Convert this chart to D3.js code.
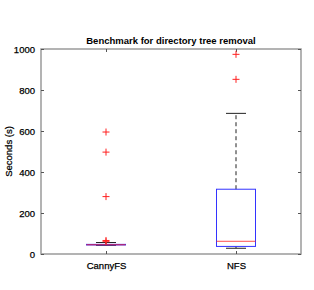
<!DOCTYPE html>
<html><head><meta charset="utf-8">
<script src="https://cdn.jsdelivr.net/npm/d3@7"></script>
<style>body{margin:0;background:#fff}svg{display:block}text{font-family:"Liberation Sans",Arial,sans-serif}</style>
</head><body>
<script>
const categories = ["CannyFS", "NFS"];
const q1 = [44, 37];
const medians = [45, 62];
const q3 = [47, 316];
const whiskerLow = [42, 28];
const whiskerHigh = [56, 686];
const outliers = [[595, 497, 280, 66, 60], [974, 852]];
const yTicks = [0, 200, 400, 600, 800, 1000];

const W = 314, H = 290;
const m = {left: 41, right: 13, top: 49, bottom: 36};
const svg = d3.select("body").append("svg").attr("width", W).attr("height", H);
const x = d3.scalePoint().domain(categories).range([m.left, W - m.right]).padding(0.5);
const y = d3.scaleLinear().domain([0, 1000]).range([H - m.bottom, m.top]);
const x0 = m.left, x1 = W - m.right, y0 = H - m.bottom, y1 = m.top;
const axisCol = "#9a9a9a", tickCol = "#555";

// frame
svg.append("rect").attr("x", x0).attr("y", y1).attr("width", x1 - x0).attr("height", y0 - y1)
  .attr("fill", "none").attr("stroke", axisCol).attr("stroke-width", 1.5);

function styleText(sel) {
  sel.attr("font-size", 9.5).attr("fill", "#000").attr("stroke", "#000").attr("stroke-width", 0.25);
}

// y axis ticks (left + mirrored right)
const gy = svg.append("g").attr("transform", `translate(${x0},0)`)
  .call(d3.axisLeft(y).tickValues(yTicks).tickFormat(d3.format("d")).tickSize(-3).tickPadding(6));
gy.select(".domain").remove();
gy.selectAll(".tick line").attr("stroke", tickCol);
styleText(gy.selectAll(".tick text"));
const gyr = svg.append("g").attr("transform", `translate(${x1},0)`)
  .call(d3.axisRight(y).tickValues(yTicks).tickSize(-3).tickFormat(""));
gyr.select(".domain").remove();
gyr.selectAll(".tick line").attr("stroke", tickCol);

// x axis
const gx = svg.append("g").attr("transform", `translate(0,${y0})`)
  .call(d3.axisBottom(x).tickSize(-3).tickPadding(8));
gx.select(".domain").remove();
gx.selectAll(".tick line").attr("stroke", tickCol);
styleText(gx.selectAll(".tick text"));
const gxt = svg.append("g").attr("transform", `translate(0,${y1})`)
  .call(d3.axisTop(x).tickSize(-3).tickFormat(""));
gxt.select(".domain").remove();
gxt.selectAll(".tick line").attr("stroke", tickCol);

// boxes
const bw = 39, cw = 20;
categories.forEach((c, i) => {
  const cx = x(c);
  const g = svg.append("g");
  g.append("line").attr("x1", cx).attr("x2", cx).attr("y1", y(q3[i])).attr("y2", y(whiskerHigh[i]))
    .attr("stroke", "#222").attr("stroke-dasharray", "4,3");
  g.append("line").attr("x1", cx).attr("x2", cx).attr("y1", y(q1[i])).attr("y2", y(whiskerLow[i]))
    .attr("stroke", "#222").attr("stroke-dasharray", "4,3");
  g.append("line").attr("x1", cx - cw / 2).attr("x2", cx + cw / 2).attr("y1", y(whiskerHigh[i])).attr("y2", y(whiskerHigh[i]))
    .attr("stroke", "#222");
  g.append("line").attr("x1", cx - cw / 2).attr("x2", cx + cw / 2).attr("y1", y(whiskerLow[i])).attr("y2", y(whiskerLow[i]))
    .attr("stroke", "#222");
  g.append("rect").attr("x", cx - bw / 2).attr("width", bw).attr("y", y(q3[i])).attr("height", Math.max(0.5, y(q1[i]) - y(q3[i])))
    .attr("fill", "none").attr("stroke", "#3333ff").attr("stroke-width", 1);
  g.append("line").attr("x1", cx - bw / 2).attr("x2", cx + bw / 2).attr("y1", y(medians[i])).attr("y2", y(medians[i]))
    .attr("stroke", "#ff2222").attr("stroke-opacity", 0.8).attr("stroke-width", 1);
  outliers[i].forEach(v => {
    const py = y(v), s = 3.5;
    g.append("path").attr("d", `M${cx - s},${py}H${cx + s}M${cx},${py - s}V${py + s}`)
      .attr("stroke", "#ff2020").attr("stroke-width", 1).attr("fill", "none");
  });
});

// title
svg.append("text").attr("x", (x0 + x1) / 2).attr("y", y1 - 5).attr("text-anchor", "middle")
  .attr("font-size", 9.5).attr("font-weight", "bold").attr("fill", "#000").text("Benchmark for directory tree removal");
// y label
styleText(svg.append("text").attr("transform", `translate(12,${(y0 + y1) / 2}) rotate(-90)`).attr("text-anchor", "middle")
  .text("Seconds (s)"));
</script>
</body></html>
